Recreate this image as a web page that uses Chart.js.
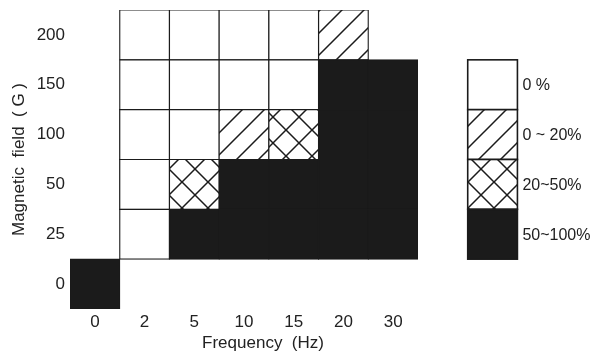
<!DOCTYPE html>
<html>
<head>
<meta charset="utf-8">
<script src="https://cdn.jsdelivr.net/npm/chart.js@4.4.1/dist/chart.umd.min.js"></script>
<style>
  html, body { margin: 0; padding: 0; background: #fff; }
  canvas { display: block; }
</style>
</head>
<body>
<canvas id="c" width="595" height="358"></canvas>
<script>
// Categories
const freqLabels = ['0', '2', '5', '10', '15', '20', '30'];
const fieldLabels = ['0', '25', '50', '100', '150', '200'];
const levelLabels = ['0 %', '0 ~ 20%', '20~50%', '50~100%'];

// Level index per frequency for each field row (0: 0%, 1: 0-20%, 2: 20-50%, 3: 50-100%, null: not tested)
const field0   = [3, null, null, null, null, null, null];
const field25  = [null, 0, 3, 3, 3, 3, 3];
const field50  = [null, 0, 2, 3, 3, 3, 3];
const field100 = [null, 0, 0, 1, 2, 3, 3];
const field150 = [null, 0, 0, 0, 0, 3, 3];
const field200 = [null, 0, 0, 0, 0, 1, null];
const fieldRows = [field0, field25, field50, field100, field150, field200];

const INK = '#1b1b1b';

// Hatch fills built on small tiles
function hatchPattern(period, slashes, backslashes) {
  const c = document.createElement('canvas');
  c.width = c.height = period;
  const g = c.getContext('2d');
  g.fillStyle = '#fff';
  g.fillRect(0, 0, period, period);
  g.strokeStyle = INK;
  g.lineWidth = 1.5;
  g.lineCap = 'square';
  const P = period;
  if (slashes) {
    g.beginPath();
    g.moveTo(-P, P); g.lineTo(P, -P);
    g.moveTo(0, P); g.lineTo(P, 0);
    g.moveTo(0, 2 * P); g.lineTo(2 * P, 0);
    g.stroke();
  }
  if (backslashes) {
    g.beginPath();
    g.moveTo(-P, 0); g.lineTo(P, 2 * P);
    g.moveTo(0, 0); g.lineTo(P, P);
    g.moveTo(0, -P); g.lineTo(2 * P, P);
    g.stroke();
  }
  return g.createPattern(c, 'repeat');
}

const fills = [
  '#ffffff',
  hatchPattern(22, true, false),
  hatchPattern(26, true, true),
  INK
];

Chart.defaults.font.family = '"Liberation Sans", Arial, sans-serif';
Chart.defaults.font.size = 17;
Chart.defaults.color = '#222';

const datasets = fieldRows.map((row, r) => ({
  label: fieldLabels[r],
  data: row.map(v => (v === null ? null : [r, r + 1])),
  backgroundColor: ctx => {
    const lvl = row[ctx.dataIndex];
    return lvl === null || lvl === undefined ? 'transparent' : fills[lvl];
  },
  borderColor: INK,
  borderWidth: 1.2,
  borderSkipped: false,
  inflateAmount: 0.6,
  grouped: false,
  barPercentage: 1,
  categoryPercentage: 1
}));

// Stacked key of the four fill classes, placed one column to the right of the grid
const levelKey = {
  id: 'levelKey',
  afterDatasetsDraw(chart) {
    const { ctx, chartArea, scales } = chart;
    const xs = scales.x, ys = scales.y;
    const colW = xs.getPixelForValue(1) - xs.getPixelForValue(0);
    const left = chartArea.right + colW;
    ctx.save();
    levelLabels.forEach((txt, i) => {
      const top = ys.getPixelForValue(5 - i);
      const bottom = ys.getPixelForValue(4 - i);
      ctx.fillStyle = fills[i];
      ctx.fillRect(left, top, colW, bottom - top);
      ctx.strokeStyle = INK;
      ctx.lineWidth = 1.6;
      ctx.strokeRect(left, top, colW, bottom - top);
      ctx.fillStyle = '#222';
      ctx.font = '16px "Liberation Sans", Arial, sans-serif';
      ctx.textAlign = 'left';
      ctx.textBaseline = 'middle';
      ctx.fillText(txt, left + colW + 5, (top + bottom) / 2 + 1);
    });
    ctx.restore();
  }
};

// Frequency caption under the tick labels
const freqCaption = {
  id: 'freqCaption',
  afterDraw(chart) {
    const { ctx, chartArea } = chart;
    ctx.save();
    ctx.fillStyle = '#222';
    ctx.font = '17px "Liberation Sans", Arial, sans-serif';
    ctx.textAlign = 'center';
    ctx.textBaseline = 'middle';
    ctx.fillText('Frequency  (Hz)', (chartArea.left + chartArea.right) / 2 + 19, chart.height - 15);
    ctx.restore();
  }
};

new Chart(document.getElementById('c'), {
  type: 'bar',
  data: { labels: freqLabels, datasets },
  options: {
    responsive: false,
    devicePixelRatio: 1,
    animation: false,
    layout: { padding: { top: 10, right: 177, bottom: 0, left: 0 } },
    plugins: { legend: { display: false }, tooltip: { enabled: false } },
    scales: {
      x: {
        type: 'category',
        offset: true,
        grid: { display: false, drawTicks: false },
        border: { display: false },
        ticks: { padding: 3, maxRotation: 0, autoSkip: false },
        afterFit: s => { s.height = 49; s.paddingLeft = 0; s.paddingRight = 0; }
      },
      y: {
        type: 'linear',
        min: 0,
        max: fieldLabels.length,
        grid: { display: false, drawTicks: false },
        border: { display: false },
        afterBuildTicks: s => { s.ticks = fieldLabels.map((_, i) => ({ value: i + 0.5 })); },
        ticks: {
          padding: 5,
          autoSkip: false,
          callback: (v, i) => fieldLabels[i]
        },
        title: {
          display: true,
          text: 'Magnetic  field  ( G )',
          font: { size: 17 },
          padding: { top: 9, bottom: 0 }
        },
        afterFit: s => { s.width = 70; s.paddingTop = 0; s.paddingBottom = 0; }
      }
    }
  },
  plugins: [levelKey, freqCaption]
});
</script>
</body>
</html>
